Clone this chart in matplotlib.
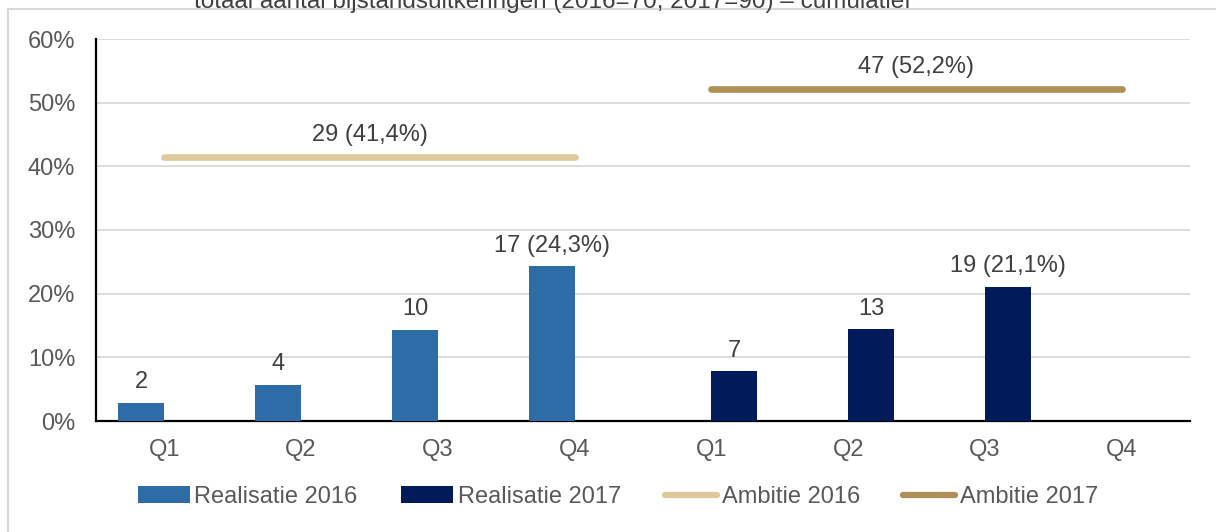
import numpy as np
import matplotlib
matplotlib.use("Agg")
import matplotlib.pyplot as plt
from matplotlib.patches import Patch
from matplotlib.lines import Line2D

plt.rcParams['font.family'] = ['Liberation Sans', 'DejaVu Sans']

# data
quarters = ["Q1", "Q2", "Q3", "Q4", "Q1", "Q2", "Q3", "Q4"]
real_2016 = [2.9, 5.7, 14.3, 24.3]
real_2016_lbl = ["2", "4", "10", "17 (24,3%)"]
real_2017 = [7.8, 14.4, 21.1]
real_2017_lbl = ["7", "13", "19 (21,1%)"]
amb_2016 = 41.4
amb_2016_lbl = "29 (41,4%)"
amb_2017 = 52.2
amb_2017_lbl = "47 (52,2%)"
yticks = [0, 10, 20, 30, 40, 50, 60]

c16 = "#2E6CA8"
c17 = "#001A5A"
ca16 = "#DDC99A"
ca17 = "#AE9158"
txt = "#595959"
lbl = "#404040"
fs = 17

fig = plt.figure(figsize=(12.16, 5.32), dpi=100)
ax = fig.add_axes([96 / 1216, 1 - 421 / 532, (1190 - 96) / 1216, (421 - 39) / 532])

w = 0.336
x16 = np.arange(4)
x17 = np.arange(4, 4 + len(real_2017))
ax.bar(x16 - w / 2, real_2016, width=w, color=c16, zorder=3)
ax.bar(x17 + w / 2, real_2017, width=w, color=c17, zorder=3)

for x, v, s in zip(x16 - w / 2, real_2016, real_2016_lbl):
    ax.annotate(s, (x, v), xytext=(0, 7), textcoords="offset points",
                ha="center", va="bottom", fontsize=fs, color=lbl)
for x, v, s in zip(x17 + w / 2, real_2017, real_2017_lbl):
    ax.annotate(s, (x, v), xytext=(0, 7), textcoords="offset points",
                ha="center", va="bottom", fontsize=fs, color=lbl)

ax.plot([0, 3], [amb_2016, amb_2016], color=ca16, lw=4.8, solid_capstyle="round", zorder=4)
ax.plot([4, 7], [amb_2017, amb_2017], color=ca17, lw=4.8, solid_capstyle="round", zorder=4)
ax.annotate(amb_2016_lbl, (1.5, amb_2016), xytext=(0, 8), textcoords="offset points",
            ha="center", va="bottom", fontsize=fs, color=lbl)
ax.annotate(amb_2017_lbl, (5.5, amb_2017), xytext=(0, 8), textcoords="offset points",
            ha="center", va="bottom", fontsize=fs, color=lbl)

ax.set_xlim(-0.5, 7.5)
ax.set_ylim(0, 60)
ax.set_xticks(range(len(quarters)))
ax.set_xticklabels(quarters)
ax.set_yticks(yticks)
ax.set_yticklabels([f"{t}%" for t in yticks])
ax.tick_params(axis="both", length=0, labelsize=fs, labelcolor=txt)
ax.tick_params(axis="x", pad=13)
ax.tick_params(axis="y", pad=15)
ax.grid(axis="y", color="#D9D9D9", lw=1.3, zorder=0)
ax.set_axisbelow(True)
for s in ["top", "right"]:
    ax.spines[s].set_visible(False)
ax.spines["left"].set_color("black")
ax.spines["bottom"].set_color("black")
ax.spines["left"].set_linewidth(1.6)
ax.spines["bottom"].set_linewidth(1.6)

handles = [
    Patch(facecolor=c16, edgecolor="none"),
    Patch(facecolor=c17, edgecolor="none"),
    Line2D([], [], color=ca16, lw=4.5, solid_capstyle="round"),
    Line2D([], [], color=ca17, lw=4.5, solid_capstyle="round"),
]
names = ["Realisatie 2016", "Realisatie 2017", "Ambitie 2016", "Ambitie 2017"]
fig.legend(handles, names, loc="center", bbox_to_anchor=(618 / 1216, 1 - 497 / 532),
           ncol=4, frameon=False, fontsize=fs, labelcolor=txt,
           handlelength=2.2, handletextpad=0.2, columnspacing=1.85)

# outer frame and cut-off title
fig.add_artist(plt.Line2D([8 / 1216, 8 / 1216], [0, 1 - 9 / 532], color="#D9D9D9", lw=1.5))
fig.add_artist(plt.Line2D([8 / 1216, 1], [1 - 9 / 532, 1 - 9 / 532], color="#D9D9D9", lw=1.5))
fig.text(552 / 1216, 1 - 8 / 532, "totaal aantal bijstandsuitkeringen (2016=70, 2017=90) – cumulatief",
         ha="center", va="baseline", fontsize=17.5, color="#404040")

fig.savefig("out.png", dpi=100)
